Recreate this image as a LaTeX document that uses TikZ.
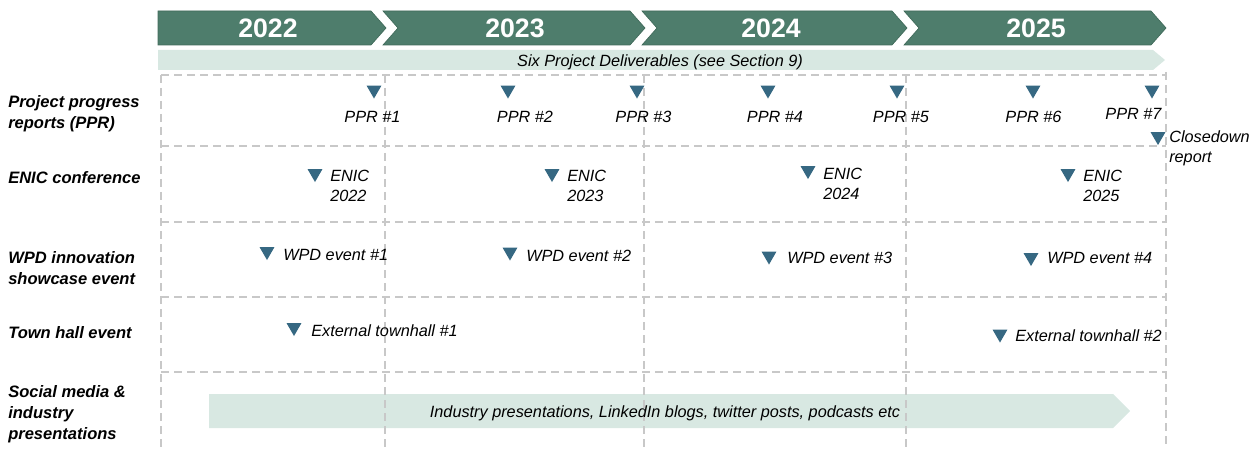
\documentclass[tikz,border=0pt]{standalone}
\usepackage{fontspec}
\setmainfont{Liberation Sans}
\usetikzlibrary{shapes.geometric}

\tikzset{
  yearbar/.style={fill={rgb, 255:red, 78; green, 125; blue, 108 }, draw={rgb, 255:red, 64; green, 106; blue, 90 }, line width=0.5},
  band/.style={fill={rgb, 255:red, 216; green, 232; blue, 226 }},
  gridline/.style={draw={rgb, 255:red, 200; green, 200; blue, 200 }, line width=1.1pt, dash pattern=on 6pt off 3.75pt},
  yeartxt/.style={text=white, font=\fontsize{20}{24}\selectfont\bfseries},
  rowtxt/.style={align=left, anchor=west, inner sep=0pt, font=\fontsize{12.4}{15.8}\selectfont\bfseries\itshape},
  evt/.style={fill={rgb, 255:red, 54; green, 104; blue, 130 }, regular polygon, regular polygon sides=3, shape border rotate=180, minimum size=12.8pt, inner sep=0pt, outer sep=0pt},
  lbl/.style={inner sep=0pt, font=\fontsize{12.2}{15}\selectfont\itshape},
  lblw/.style={lbl, anchor=west, align=left},
}

\begin{document}
\begin{tikzpicture}[x=0.75pt,y=0.75pt,yscale=-1,xscale=1]
\useasboundingbox (0,0) rectangle (1260,449);

%Shape: Year chevrons
\draw [yearbar] (158,11) -- (371,11) -- (386,28) -- (371,45) -- (158,45) -- cycle ;
\draw [yearbar] (383,11) -- (630,11) -- (645,28) -- (630,45) -- (383,45) -- (398,28) -- cycle ;
\draw [yearbar] (642,11) -- (892,11) -- (907,28) -- (892,45) -- (642,45) -- (657,28) -- cycle ;
\draw [yearbar] (904,11) -- (1151,11) -- (1166,28) -- (1151,45) -- (904,45) -- (919,28) -- cycle ;
%Shape: Deliverables band
\fill [band] (158,50) -- (1153,50) -- (1165,60) -- (1153,70) -- (158,70) -- cycle ;
%Shape: Social media band
\fill [band] (209,394) -- (1113,394) -- (1130,411) -- (1113,428) -- (209,428) -- cycle ;

%Straight Lines: grid
\draw [gridline] (161,75) -- (1166,75) ;
\draw [gridline] (161,146) -- (1166,146) ;
\draw [gridline] (161,222) -- (1166,222) ;
\draw [gridline] (161,297) -- (1166,297) ;
\draw [gridline] (161,372) -- (1166,372) ;
\draw [gridline] (161,75) -- (161,449) ;
\draw [gridline] (385,75) -- (385,449) ;
\draw [gridline] (644,75) -- (644,449) ;
\draw [gridline] (906,75) -- (906,449) ;
\draw [gridline] (1166,72) -- (1166,449) ;

% Text Node
\draw (268,28) node [yeartxt] (y2022) {2022};
% Text Node
\draw (515,28) node [yeartxt] (y2023) {2023};
% Text Node
\draw (771,28) node [yeartxt] (y2024) {2024};
% Text Node
\draw (1036,28) node [yeartxt] (y2025) {2025};
% Text Node
\draw (660,62.5) node [lbl] (deliv) {Six Project Deliverables (see Section 9)};
% Text Node
\draw (665,413) node [lbl] (social) {Industry presentations, LinkedIn blogs, twitter posts, podcasts etc};

% Row labels
\draw (8,114) node [rowtxt] (rowppr) {Project progress\\reports (PPR)};
\draw (8,178) node [rowtxt] (rowenic) {ENIC conference};
\draw (8,268) node [rowtxt] (rowwpd) {WPD innovation\\showcase event};
\draw (8,333) node [rowtxt] (rowtown) {Town hall event};
\draw (8,414) node [rowtxt] (rowsocial) {Social media \&\\industry\\presentations};

% PPR markers
\draw (374,90) node [evt] (ppr1m) {};
\draw (508,90) node [evt] (ppr2m) {};
\draw (637,90) node [evt] (ppr3m) {};
\draw (768,90) node [evt] (ppr4m) {};
\draw (897,90) node [evt] (ppr5m) {};
\draw (1033,90) node [evt] (ppr6m) {};
\draw (1152,90) node [evt] (ppr7m) {};
\draw (1158,136.5) node [evt] (closem) {};
\draw (372.5,117) node [lbl] (ppr1) {PPR \#1};
\draw (525,117) node [lbl] (ppr2) {PPR \#2};
\draw (643.5,117) node [lbl] (ppr3) {PPR \#3};
\draw (775,117) node [lbl] (ppr4) {PPR \#4};
\draw (901,117) node [lbl] (ppr5) {PPR \#5};
\draw (1033.5,117) node [lbl] (ppr6) {PPR \#6};
\draw (1133.5,114) node [lbl] (ppr7) {PPR \#7};
\draw (1169,148) node [lblw] (close) {Closedown\\report};

% ENIC markers
\draw (315,173.5) node [evt] (enic1m) {};
\draw (552,173.5) node [evt] (enic2m) {};
\draw (808,170.5) node [evt] (enic3m) {};
\draw (1068,173.5) node [evt] (enic4m) {};
\draw (330,186) node [lblw] (enic1) {ENIC\\2022};
\draw (567,186) node [lblw] (enic2) {ENIC\\2023};
\draw (823,184) node [lblw] (enic3) {ENIC\\2024};
\draw (1083,186) node [lblw] (enic4) {ENIC\\2025};

% WPD markers
\draw (267,251.5) node [evt] (wpd1m) {};
\draw (510,252) node [evt] (wpd2m) {};
\draw (769,256) node [evt] (wpd3m) {};
\draw (1031,257.5) node [evt] (wpd4m) {};
\draw (283,255) node [lblw] (wpd1) {WPD event \#1};
\draw (526,256) node [lblw] (wpd2) {WPD event \#2};
\draw (787,258) node [lblw] (wpd3) {WPD event \#3};
\draw (1047,258) node [lblw] (wpd4) {WPD event \#4};

% Town hall markers
\draw (294,327.5) node [evt] (town1m) {};
\draw (1000,334) node [evt] (town2m) {};
\draw (311,331) node [lblw] (town1) {External townhall \#1};
\draw (1015,336) node [lblw] (town2) {External townhall \#2};
\end{tikzpicture}
\end{document}
